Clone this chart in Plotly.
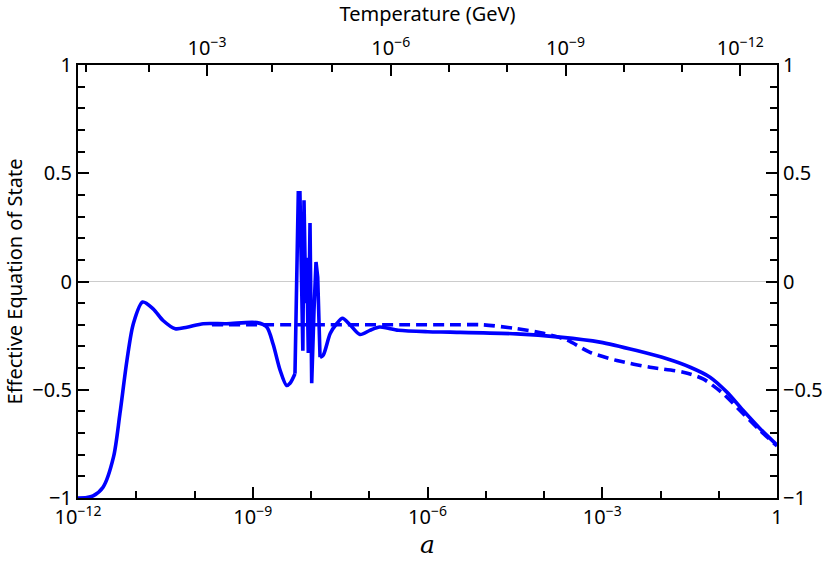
import plotly.graph_objects as go

# log10(a) and effective equation of state
# smooth rise and first plateau
rise_loga = [-12.0, -11.85, -11.74, -11.57, -11.39, -11.28, -11.16, -11.05, -10.89, -10.71,
             -10.54, -10.33, -10.13, -9.85, -9.45, -8.93, -8.76, -8.65, -8.53, -8.42,
             -8.36, -8.275]
rise_w = [-1.0, -0.998, -0.99, -0.95, -0.81, -0.61, -0.365, -0.195, -0.095, -0.126,
          -0.18, -0.218, -0.211, -0.195, -0.195, -0.19, -0.21, -0.29, -0.41, -0.48,
          -0.47, -0.426]
# oscillating transition
spike_loga = [-8.275, -8.218, -8.19, -8.14, -8.12, -8.09, -8.074, -8.046, -8.017, -7.988,
              -7.948, -7.914, -7.885, -7.845]
spike_w = [-0.426, 0.41, 0.41, -0.32, 0.375, -0.10, 0.11, -0.33, 0.27, -0.47,
           -0.13, 0.09, 0.02, -0.35]
# late-time tail
tail_loga = [-7.845, -7.79, -7.67, -7.56, -7.46, -7.33, -7.16, -6.99, -6.82, -6.5,
             -6.0, -5.61, -4.47, -3.73, -3.04, -2.41, -1.89, -1.49, -1.15, -0.86,
             -0.58, -0.29, 0.0]
tail_w = [-0.35, -0.34, -0.24, -0.195, -0.17, -0.20, -0.245, -0.226, -0.21, -0.225,
          -0.232, -0.234, -0.242, -0.257, -0.28, -0.319, -0.357, -0.396, -0.442, -0.511,
          -0.596, -0.68, -0.755]

dashed_loga = [-9.7, -8.0, -6.0, -5.61, -5.05, -4.47, -4.01, -3.61, -3.21, -2.75,
               -2.18, -1.61, -1.27, -0.92, -0.635, -0.29, 0.0]
dashed_w = [-0.2, -0.2, -0.2, -0.2, -0.2, -0.218, -0.239, -0.27, -0.327, -0.365,
            -0.396, -0.419, -0.45, -0.519, -0.596, -0.688, -0.76]

# bottom axis ticks
a_major = [1e-12, 1e-9, 1e-6, 1e-3, 1]
a_major_text = ["10<sup>−12</sup>", "10<sup>−9</sup>", "10<sup>−6</sup>", "10<sup>−3</sup>", "1"]
a_minor = [10.0 ** k for k in range(-12, 1)]

# top axis: temperature ticks and where they sit in log10(a)
temp_major_loga = [-9.785, -6.63, -3.63, -0.63]
temp_major_text = ["10<sup>−3</sup>", "10<sup>−6</sup>", "10<sup>−9</sup>", "10<sup>−12</sup>"]
temp_minor_loga = [-11.86, -10.78, -9.785, -8.67, -7.64, -6.63, -5.63, -4.63, -3.63, -2.63, -1.63, -0.63]

y_major = [-1, -0.5, 0, 0.5, 1]
y_text = ["−1", "−0.5", "0", "0.5", "1"]
y_minor = [round(-1 + 0.1 * i, 1) for i in range(21)]

blue = "#0000ff"
font = "Noto Sans"

fig = go.Figure()
fig.add_trace(go.Scatter(
    x=[10 ** v for v in dashed_loga], y=dashed_w, mode="lines",
    line=dict(color=blue, width=3.6, dash="11px,6px", shape="spline", smoothing=0.8),
    showlegend=False,
))
for xs, ys, shape in [(rise_loga, rise_w, "spline"), (spike_loga, spike_w, "linear"),
                      (tail_loga, tail_w, "spline")]:
    fig.add_trace(go.Scatter(
        x=[10 ** v for v in xs], y=ys, mode="lines",
        line=dict(color=blue, width=3.6, shape=shape, smoothing=0.8),
        showlegend=False,
    ))
# invisible traces so the top and right axes get drawn
fig.add_trace(go.Scatter(x=[1e-6], y=[0], xaxis="x2", yaxis="y", mode="markers",
                         marker=dict(opacity=0), showlegend=False, hoverinfo="skip"))
fig.add_trace(go.Scatter(x=[1e-6], y=[0], xaxis="x", yaxis="y2", mode="markers",
                         marker=dict(opacity=0), showlegend=False, hoverinfo="skip"))

axis_common = dict(showline=True, linecolor="black", linewidth=2, ticks="inside",
                   ticklen=11, tickwidth=2, tickcolor="black", showgrid=False,
                   automargin=False,
                   tickfont=dict(family=font, size=20, color="black"))
minor_common = dict(tickmode="array", ticks="inside", ticklen=7, tickwidth=2,
                    tickcolor="black", showgrid=False)

fig.update_layout(
    width=822, height=564,
    margin=dict(l=78, r=45, t=65, b=66),
    paper_bgcolor="white", plot_bgcolor="white",
    xaxis=dict(
        type="log", range=[-12, 0], tickmode="array", tickvals=a_major, ticktext=a_major_text,
        minor=dict(tickvals=a_minor, **minor_common),
        zeroline=False,
        title=dict(text="<i>a</i>", font=dict(family="DejaVu Serif", size=25, color="black"),
                   standoff=6),
        **axis_common,
    ),
    xaxis2=dict(
        type="log", range=[-12, 0], overlaying="x", side="top", tickmode="array",
        tickvals=[10 ** v for v in temp_major_loga], ticktext=temp_major_text,
        minor=dict(tickvals=[10 ** v for v in temp_minor_loga], **minor_common),
        zeroline=False,
        title=dict(text="Temperature (GeV)", font=dict(family=font, size=20, color="black"),
                   standoff=6),
        **axis_common,
    ),
    yaxis=dict(
        range=[-1, 1], tickmode="array", tickvals=y_major, ticktext=y_text,
        minor=dict(tickvals=y_minor, **minor_common),
        zeroline=True, zerolinecolor="#cccccc", zerolinewidth=1,
        title=dict(text="Effective Equation of State", font=dict(family=font, size=20, color="black"),
                   standoff=4),
        **axis_common,
    ),
    yaxis2=dict(
        range=[-1, 1], overlaying="y", side="right", tickmode="array",
        tickvals=y_major, ticktext=y_text,
        minor=dict(tickvals=y_minor, **minor_common),
        zeroline=False,
        **axis_common,
    ),
)

# drop the browser's default page margin so the figure sits at the window's corner
fig.write_html("out.html", config={"displayModeBar": False},
               post_script="document.body.style.margin='0';")
